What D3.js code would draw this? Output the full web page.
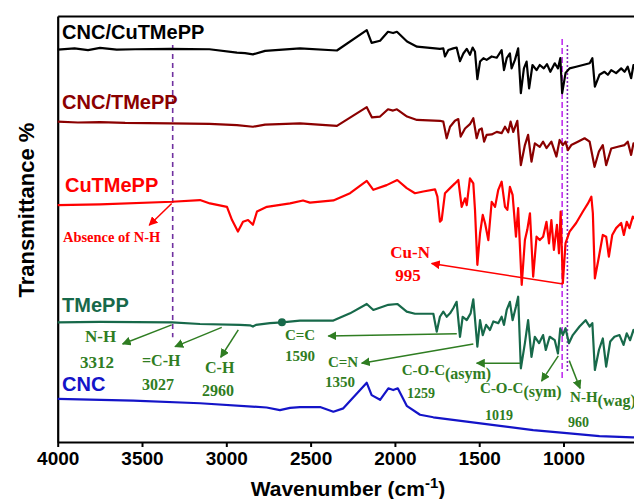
<!DOCTYPE html>
<html>
<head>
<meta charset="utf-8">
<script src="https://cdn.jsdelivr.net/npm/d3@7"></script>
<style>
  body { margin: 0; background: #fff; }
  svg { display: block; }
</style>
</head>
<body>
<svg width="634" height="499"></svg>
<script>
// FTIR spectra, [wavenumber cm-1, transmittance (offset, a.u.)]
var cncCuTMePP = [
  [4000,92.1],[3900,92.4],[3820,92.0],[3749,92.5],[3650,92.1],[3541,92.2],[3334,92.3],[3100,92.2],[2937,91.4],[2889,91.3],[2842,91.0],
  [2770,91.8],[2563,92.4],[2344,91.9],[2167,96.7],[2138,93.7],[2088,94.2],[2041,96.3],[2011,96.0],[1988,96.3],
  [1928,94.0],[1869,92.8],[1762,92.4],[1733,92.3],[1713,92.4],[1703,90.5],[1683,92.0],[1654,92.4],[1634,92.6],
  [1614,89.4],[1594,91.2],[1574,92.3],[1555,90.9],[1539,92.6],[1525,91.6],[1511,85.2],[1495,89.3],[1475,90.1],
  [1456,89.7],[1426,90.5],[1396,90.2],[1367,92.0],[1353,87.3],[1337,90.1],[1318,91.2],[1308,87.7],[1288,89.7],
  [1269,92.4],[1253,81.9],[1235,87.7],[1219,89.3],[1204,83.0],[1184,88.5],[1160,87.3],[1141,88.5],[1117,87.7],
  [1098,88.7],[1078,86.9],[1052,88.9],[1033,87.7],[1019,90.1],[1008,81.9],[988,86.6],[964,87.7],[925,88.1],
  [885,88.5],[845,88.9],[829,90.1],[814,83.4],[787,86.2],[757,86.9],[737,86.2],[717,87.3],[688,86.6],[658,87.7],
  [638,86.9],[619,88.1],[599,85.4],[585,88.5],[570,87.5]
];
var cncTMePP = [
  [4000,75.2],[3880,75.0],[3749,75.1],[3600,74.9],[3334,74.8],[3100,74.7],[2937,74.4],[2842,74.0],[2770,74.5],
  [2563,74.8],[2344,74.2],[2167,78.6],[2136,76.2],[2088,76.4],[2041,78.1],[2011,77.8],[1988,78.1],[1928,76.4],
  [1869,75.6],[1733,75.4],[1713,75.2],[1693,71.3],[1673,74.0],[1644,75.4],[1624,75.8],[1610,71.7],[1584,73.6],
  [1555,74.6],[1535,76.0],[1515,71.3],[1500,73.3],[1485,73.6],[1471,70.5],[1456,72.1],[1426,72.2],[1396,72.8],
  [1367,72.5],[1347,74.0],[1328,72.7],[1314,75.2],[1298,72.8],[1274,75.4],[1253,65.0],[1229,69.7],[1210,72.1],
  [1190,65.8],[1170,70.1],[1141,69.3],[1121,70.5],[1101,69.0],[1072,70.5],[1042,67.0],[1023,70.9],[1004,69.7],
  [988,70.5],[974,68.5],[954,69.7],[915,70.5],[875,71.3],[845,70.5],[816,64.6],[790,68.2],[767,69.7],[747,65.0],
  [717,68.9],[678,69.3],[638,69.7],[619,70.5],[599,67.4],[585,70.1],[570,69.5]
];
var cuTMePP = [
  [4000,55.6],[3749,55.8],[3322,56.4],[3156,56.8],[3097,56.0],[2996,55.2],[2966,52.1],[2931,49.4],[2901,51.7],
  [2871,52.1],[2842,51.0],[2818,54.1],[2759,55.2],[2622,56.0],[2545,56.7],[2504,56.2],[2365,56.7],[2266,58.4],
  [2167,61.3],[2128,59.2],[2049,60.3],[1986,61.5],[1930,59.6],[1881,58.4],[1832,58.8],[1762,59.3],[1748,57.6],
  [1733,51.7],[1723,52.1],[1703,58.4],[1673,59.6],[1644,60.7],[1624,61.5],[1604,55.2],[1584,57.2],[1574,55.6],
  [1555,61.9],[1535,60.7],[1525,54.5],[1511,41.6],[1495,49.0],[1479,53.3],[1465,51.3],[1446,47.4],[1426,56.4],
  [1406,55.2],[1387,59.2],[1367,61.1],[1347,55.2],[1333,54.5],[1318,59.9],[1302,58.0],[1282,48.2],[1269,54.9],
  [1248,36.9],[1229,47.4],[1215,49.8],[1199,53.7],[1180,38.8],[1160,48.2],[1141,47.4],[1121,48.2],[1101,51.7],
  [1086,46.6],[1072,52.1],[1057,45.1],[1039,51.0],[1027,44.3],[1017,54.1],[1004,37.3],[988,46.7],[964,49.4],
  [925,51.4],[885,54.1],[855,56.0],[835,57.6],[826,53.7],[814,38.4],[790,43.5],[767,48.6],[747,48.2],[731,43.5],
  [711,48.6],[688,50.2],[658,51.4],[642,48.6],[625,51.7],[609,50.2],[589,52.9],[570,52.0]
];
var tMePP = [
  [4000,28.1],[3749,28.2],[3322,28.1],[3156,27.7],[2919,27.5],[2860,27.4],[2842,27.1],[2824,27.5],[2741,27.9],
  [2670,28.1],[2563,28.5],[2365,28.5],[2266,30.2],[2167,32.4],[2128,31.0],[2039,32.2],[1986,32.4],[1930,30.6],
  [1881,30.1],[1772,30.1],[1752,25.9],[1733,29.4],[1713,30.6],[1693,29.4],[1673,30.2],[1654,31.4],[1634,32.9],
  [1614,24.7],[1598,29.4],[1574,28.6],[1551,30.2],[1535,33.5],[1511,22.4],[1495,28.6],[1479,25.1],[1459,27.5],
  [1436,26.3],[1416,28.3],[1387,27.9],[1367,29.4],[1353,27.5],[1337,31.0],[1318,32.9],[1302,28.6],[1282,31.8],
  [1269,34.1],[1253,17.3],[1229,23.2],[1210,28.6],[1190,20.0],[1170,24.7],[1145,23.2],[1121,25.1],[1105,21.6],
  [1082,24.7],[1052,23.9],[1033,20.8],[1019,26.7],[1004,25.1],[988,26.7],[968,23.2],[945,25.1],[905,27.1],
  [869,28.6],[845,27.1],[829,27.9],[814,16.9],[790,21.6],[767,24.3],[747,17.7],[723,23.6],[698,24.7],[668,25.1],
  [644,22.8],[625,25.5],[605,23.9],[585,26.3],[570,25.5]
];
var cnc = [
  [4000,10.1],[3552,9.7],[3156,9.1],[2761,8.1],[2682,7.5],[2622,8.0],[2563,8.2],[2444,8.2],[2365,7.1],[2306,7.9],
  [2167,13.9],[2138,11.0],[2088,9.9],[2039,12.6],[2010,12.2],[1983,12.6],[1930,8.5],[1851,6.4],[1772,5.8],
  [1574,4.8],[1377,3.8],[1180,2.8],[981,2.1],[787,1.4],[589,1.1],[570,1.0]
];

var seriesNames = ["CNC/CuTMePP", "CNC/TMePP", "CuTMePP", "TMePP", "CNC"];
var seriesData = [cncCuTMePP, cncTMePP, cuTMePP, tMePP, cnc];
var seriesLabelPos = [[3974, 94.5], [3974, 78.1], [3957, 58.6], [3974, 30.6], [3974, 12.0]];
var seriesColors = ["#000000", "#8b0000", "#ff0000", "#17694a", "#1414c8"];

var xTicks = [4000, 3500, 3000, 2500, 2000, 1500, 1000];

// marked band positions [wavenumber, from, to]
var guideLines = [[3318, 93.2, 24.6], [1008, 94.6, 14.6], [977, 93.2, 16.4]];

// green band labels: [text, wavenumber, value, size]
var greenLabels = [
  ["N-H", 3838, 23.5, 17], ["3312", 3868, 17.4, 17],
  ["=C-H", 3500, 17.9, 16], ["3027", 3500, 12.2, 16],
  ["C-H", 3126, 16.2, 16], ["2960", 3144, 10.8, 16],
  ["C=C", 2652, 24.0, 15], ["1590", 2652, 18.9, 15],
  ["C=N", 2397, 17.7, 15], ["1350", 2415, 13.0, 15],
  ["1259", 1928, 10.3, 14], ["1019", 1466, 5.2, 14], ["960", 973, 3.6, 14]
];
var greenSubLabels = [["C-O-C", "(asym)", 1960, 15.8], ["C-O-C", "(sym)", 1495, 11.5], ["N-H", "(wag)", 961, 9.5]];
// arrows [fromW, fromV, toW, toV]
var greenArrows = [
  [3324, 27.5, 3615, 23.0], [3027, 26.9, 3304, 22.4], [2929, 26.3, 3033, 19.9],
  [1633, 25.4, 2395, 24.9], [1535, 23.0, 2197, 18.5], [1258, 18.5, 1515, 18.5],
  [1031, 20.2, 1130, 14.3], [966, 19.1, 902, 12.6]
];
var redLabels = [["Absence of N-H", 3969, 47.0, 14.5, "start"], ["Cu-N", 1910, 43.2, 17, "middle"], ["995", 1922, 37.8, 17, "middle"]];
var redArrows = [[3324, 56.0, 3457, 50.9], [1003, 37.1, 1782, 41.9]];
var dotPoint = [2670, 28.1];

var svg = d3.select("svg");
var plotLeft = 57.7, plotTop = 16, plotBottom = 442;
var x = d3.scaleLinear().domain([4000, 400]).range([plotLeft, plotLeft + 3600 / 5.931]);
var y = d3.scaleLinear().domain([0, 100]).range([plotBottom, plotTop]);

var green = "#2f7d22";
var defs = svg.append("defs");
function marker(id, color) {
  defs.append("marker")
    .attr("id", id)
    .attr("viewBox", "0 0 10 10")
    .attr("refX", 9).attr("refY", 5)
    .attr("markerWidth", 9).attr("markerHeight", 9)
    .attr("markerUnits", "userSpaceOnUse")
    .attr("orient", "auto")
    .append("path").attr("d", "M0,0 L10,5 L0,10 z").attr("fill", color);
}
marker("ag", green);
marker("ar", "#ff0000");

// axes
svg.append("g")
  .attr("transform", "translate(0," + plotBottom + ")")
  .call(d3.axisBottom(x).tickValues(xTicks).tickFormat(d3.format("d")).tickSize(5).tickSizeOuter(0).tickPadding(5))
  .call(function(g) {
    g.select(".domain").attr("stroke-width", 2.2);
    g.selectAll(".tick line").attr("stroke-width", 2);
    g.selectAll("text").attr("font-family", "Liberation Sans, Arial").attr("font-weight", "bold").attr("font-size", 19).attr("fill", "#000");
  });
svg.append("g")
  .attr("transform", "translate(" + plotLeft + ",0)")
  .call(d3.axisLeft(y).tickValues([]).tickSizeOuter(0))
  .select(".domain").attr("stroke-width", 2.2);
svg.append("g")
  .attr("transform", "translate(0," + plotTop + ")")
  .call(d3.axisTop(x).tickValues([]).tickSizeOuter(0))
  .select(".domain").attr("stroke-width", 2.2);

// guide lines
var guideStyle = [["#7030a0", "5,4"], ["#c030f0", "6,3"], ["#8a2bc0", "2,2"]];
guideLines.forEach(function(d, i) {
  svg.append("line")
    .attr("x1", x(d[0])).attr("x2", x(d[0]))
    .attr("y1", y(d[1])).attr("y2", y(d[2]))
    .attr("stroke", guideStyle[i][0]).attr("stroke-width", 1.6)
    .attr("stroke-dasharray", guideStyle[i][1]);
});

// spectra
var line = d3.line()
  .x(function(d) { return x(d[0]); })
  .y(function(d) { return y(d[1]); });
seriesData.forEach(function(data, i) {
  svg.append("path")
    .datum(data)
    .attr("fill", "none")
    .attr("stroke", seriesColors[i])
    .attr("stroke-width", 2.2)
    .attr("stroke-linejoin", "round")
    .attr("d", line);
  svg.append("text")
    .attr("x", x(seriesLabelPos[i][0])).attr("y", y(seriesLabelPos[i][1]))
    .attr("font-family", "Liberation Sans, Arial").attr("font-weight", "bold")
    .attr("font-size", 20).attr("fill", seriesColors[i])
    .text(seriesNames[i]);
});

svg.append("circle")
  .attr("cx", x(dotPoint[0])).attr("cy", y(dotPoint[1])).attr("r", 4)
  .attr("fill", "#17694a");

// annotations
greenArrows.forEach(function(a) {
  svg.append("line")
    .attr("x1", x(a[0])).attr("y1", y(a[1])).attr("x2", x(a[2])).attr("y2", y(a[3]))
    .attr("stroke", green).attr("stroke-width", 1.5).attr("marker-end", "url(#ag)");
});
redArrows.forEach(function(a) {
  svg.append("line")
    .attr("x1", x(a[0])).attr("y1", y(a[1])).attr("x2", x(a[2])).attr("y2", y(a[3]))
    .attr("stroke", "#ff0000").attr("stroke-width", 1.5).attr("marker-end", "url(#ar)");
});
greenLabels.forEach(function(d) {
  svg.append("text")
    .attr("x", x(d[1])).attr("y", y(d[2]))
    .attr("font-family", "Liberation Serif, Times New Roman").attr("font-weight", "bold")
    .attr("font-size", d[3]).attr("fill", green)
    .text(d[0]);
});
greenSubLabels.forEach(function(d) {
  var t = svg.append("text")
    .attr("x", x(d[2])).attr("y", y(d[3]))
    .attr("font-family", "Liberation Serif, Times New Roman").attr("font-weight", "bold")
    .attr("font-size", 15).attr("fill", green);
  t.append("tspan").text(d[0]);
  t.append("tspan").attr("dy", 4).attr("font-size", 16).text(d[1]);
});
redLabels.forEach(function(d) {
  svg.append("text")
    .attr("x", x(d[1])).attr("y", y(d[2]))
    .attr("text-anchor", d[4])
    .attr("font-family", "Liberation Serif, Times New Roman").attr("font-weight", "bold")
    .attr("font-size", d[3]).attr("fill", "#ff0000")
    .text(d[0]);
});

// axis titles
var xt = svg.append("text")
  .attr("x", 348).attr("y", 496)
  .attr("text-anchor", "middle")
  .attr("font-family", "Liberation Sans, Arial").attr("font-weight", "bold")
  .attr("font-size", 21);
xt.append("tspan").text("Wavenumber (cm");
xt.append("tspan").attr("dy", -8).attr("font-size", 15).text("-1");
xt.append("tspan").attr("dy", 8).text(")");

svg.append("text")
  .attr("transform", "translate(34,210) rotate(-90)")
  .attr("text-anchor", "middle")
  .attr("font-family", "Liberation Sans, Arial").attr("font-weight", "bold")
  .attr("font-size", 22)
  .text("Transmittance %");
</script>
</body>
</html>
